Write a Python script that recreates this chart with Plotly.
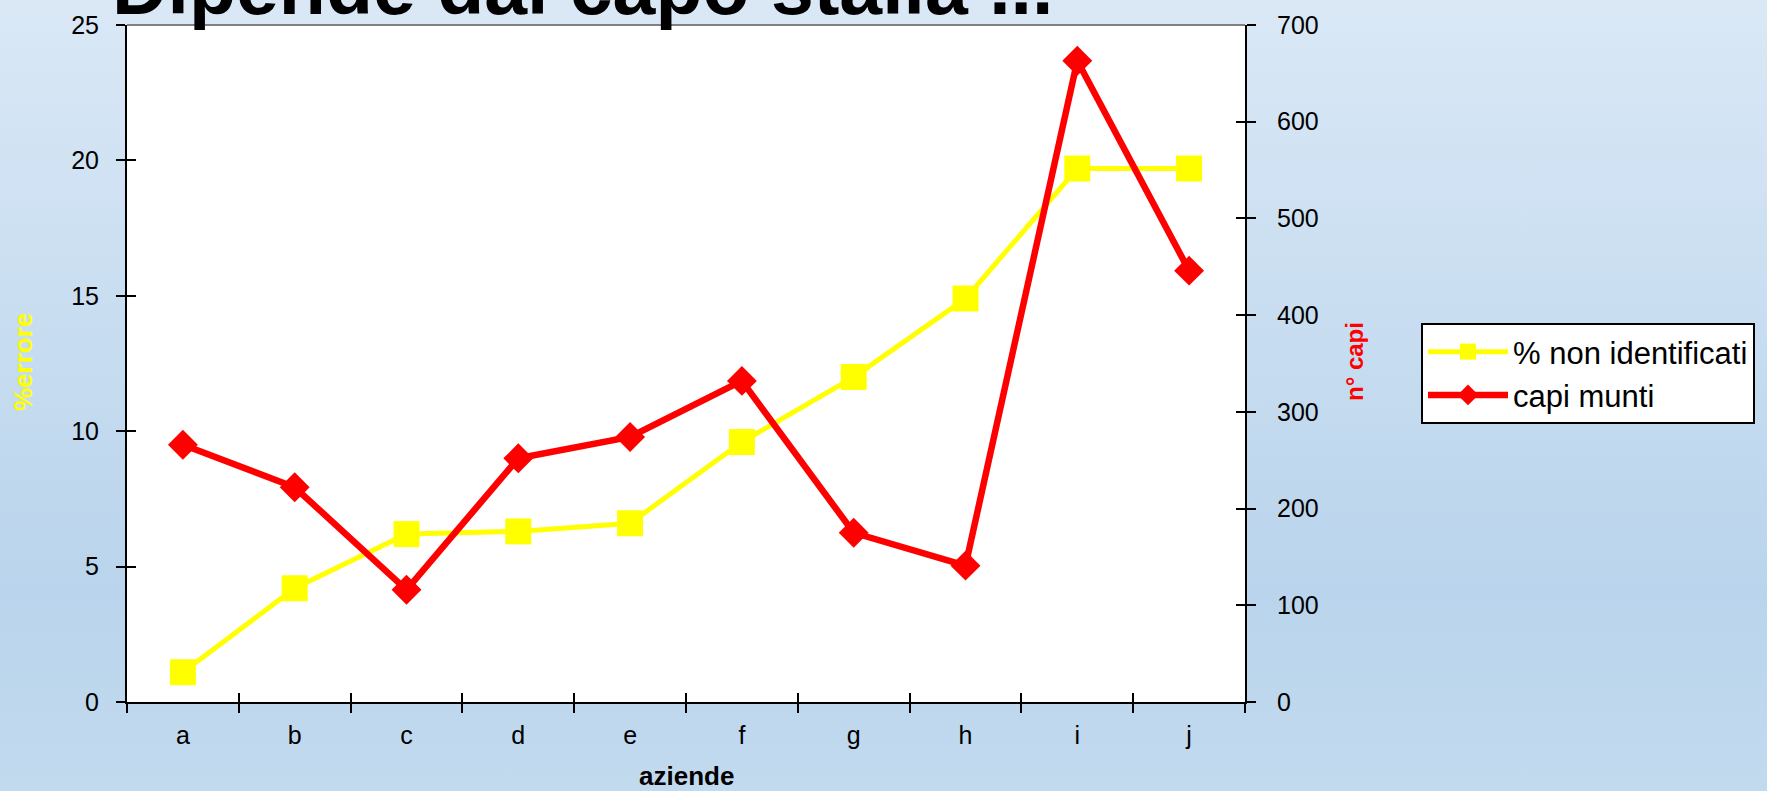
import base64
import plotly.graph_objects as go

# ---- data ----
categories = ["a", "b", "c", "d", "e", "f", "g", "h", "i", "j"]
pct_non_identificati = [1.1, 4.2, 6.2, 6.3, 6.6, 9.6, 12.0, 14.9, 19.7, 19.7]
capi_munti = [266, 222, 116, 252, 274, 332, 175, 141, 663, 446]
left_ticks = [0, 5, 10, 15, 20, 25]
right_ticks = [0, 100, 200, 300, 400, 500, 600, 700]

title_text = "Dipende dal capo stalla ..."
left_title = "%errore"
right_title = "n° capi"
x_title = "aziende"
series_names = ["% non identificati", "capi munti"]

FONT = "Liberation Sans, Arial, sans-serif"
W, H = 1767, 791
L, R, T, B = 127, 522, 25, 89
pw, ph = W - L - R, H - T - B


def px_x(px):
    return (px - L) / pw


def px_y(py):
    return (H - B - py) / ph


svg = (
    '<svg xmlns="http://www.w3.org/2000/svg" width="100" height="100" '
    'viewBox="0 0 100 100" preserveAspectRatio="none"><defs>'
    '<linearGradient id="g" x1="0" y1="0" x2="0" y2="1">'
    '<stop offset="0" stop-color="#dae8f6"/>'
    '<stop offset="0.75" stop-color="#b9d4ec"/>'
    '<stop offset="1" stop-color="#c2daee"/>'
    '</linearGradient></defs><rect width="100" height="100" fill="url(#g)"/></svg>'
)
svg_uri = "data:image/svg+xml;base64," + base64.b64encode(svg.encode()).decode()

fig = go.Figure()

fig.add_trace(go.Scatter(
    x=categories, y=pct_non_identificati, name=series_names[0],
    mode="lines+markers", xaxis="x", yaxis="y",
    line=dict(color="#FFFF00", width=5),
    marker=dict(symbol="square", size=26, color="#FFFF00"),
))
fig.add_trace(go.Scatter(
    x=categories, y=capi_munti, name=series_names[1],
    mode="lines+markers", xaxis="x", yaxis="y2",
    line=dict(color="#FF0000", width=6.5),
    marker=dict(symbol="diamond", size=23, color="#FF0000"),
))
# invisible helpers so the overlay axes (inner half of crossing ticks) render
fig.add_trace(go.Scatter(
    x=categories, y=pct_non_identificati, xaxis="x2", yaxis="y3",
    mode="markers", marker=dict(opacity=0), showlegend=False, hoverinfo="skip",
))
fig.add_trace(go.Scatter(
    x=categories, y=capi_munti, xaxis="x", yaxis="y4",
    mode="markers", marker=dict(opacity=0), showlegend=False, hoverinfo="skip",
))

tickfont = dict(family=FONT, size=25, color="black")
cat_axis = dict(type="category", categoryorder="array", categoryarray=categories,
                range=[-0.5, len(categories) - 0.5], tickson="boundaries",
                showgrid=False, zeroline=False)

fig.update_layout(
    width=W, height=H,
    margin=dict(l=L, r=R, t=T, b=B, autoexpand=False),
    paper_bgcolor="#c6dcf0", plot_bgcolor="white",
    font=dict(family=FONT, color="black"),
    showlegend=True,
    legend=dict(
        x=px_x(1421), y=px_y(323), xanchor="left", yanchor="top",
        bgcolor="white", bordercolor="black", borderwidth=2,
        font=dict(family=FONT, size=31, color="black"),
        itemsizing="trace", tracegroupgap=0, itemwidth=80,
    ),
    xaxis=dict(**cat_axis, ticks="outside", ticklen=9, tickwidth=2, tickcolor="black",
               showline=True, linewidth=2, linecolor="black",
               tickfont=tickfont, ticklabelstandoff=10),
    xaxis2=dict(**cat_axis, overlaying="x", side="bottom", ticks="inside", ticklen=9,
                tickwidth=2, tickcolor="black", showticklabels=False, showline=False),
    yaxis=dict(range=[0, 25], tickmode="array", tickvals=left_ticks,
               ticks="outside", ticklen=9, tickwidth=2, tickcolor="black",
               showline=True, linewidth=2, linecolor="black", showgrid=False,
               zeroline=False, tickfont=tickfont, ticklabelstandoff=12),
    yaxis2=dict(range=[0, 700], tickmode="array", tickvals=right_ticks, overlaying="y",
                side="right", ticks="outside", ticklen=9, tickwidth=2, tickcolor="black",
                showline=True, linewidth=2, linecolor="black", showgrid=False,
                zeroline=False, tickfont=tickfont, ticklabelstandoff=16),
    yaxis3=dict(range=[0, 25], tickmode="array", tickvals=left_ticks, overlaying="y",
                side="left", ticks="inside", ticklen=9, tickwidth=2, tickcolor="black",
                showticklabels=False, showline=False, showgrid=False, zeroline=False),
    yaxis4=dict(range=[0, 700], tickmode="array", tickvals=right_ticks, overlaying="y",
                side="right", ticks="inside", ticklen=9, tickwidth=2, tickcolor="black",
                showticklabels=False, showline=False, showgrid=False, zeroline=False),
    images=[dict(source=svg_uri, xref="paper", yref="paper",
                 x=px_x(0), y=px_y(0), sizex=W / pw, sizey=H / ph,
                 xanchor="left", yanchor="top", sizing="stretch", layer="below")],
    shapes=[
        dict(type="rect", xref="paper", yref="paper", x0=0, x1=1, y0=0, y1=1,
             fillcolor="white", line=dict(width=0), layer="below"),
        dict(type="line", xref="paper", yref="paper", x0=0, x1=1, y0=1, y1=1,
             line=dict(color="#808080", width=2)),
    ],
    annotations=[
        dict(text=title_text, xref="paper", yref="paper", x=px_x(110), y=px_y(-13),
             xanchor="left", yanchor="middle", showarrow=False,
             font=dict(family=FONT, size=77, color="black", weight="bold")),
        dict(text=left_title, xref="paper", yref="paper", x=px_x(23), y=px_y(362),
             xanchor="center", yanchor="middle", showarrow=False, textangle=-90,
             font=dict(family=FONT, size=26, color="#FFFF00", weight="bold")),
        dict(text=right_title, xref="paper", yref="paper", x=px_x(1355), y=px_y(362),
             xanchor="center", yanchor="middle", showarrow=False, textangle=-90,
             font=dict(family=FONT, size=24, color="#FF0000", weight="bold")),
        dict(text=x_title, xref="paper", yref="paper", x=0.5, y=px_y(776),
             xanchor="center", yanchor="middle", showarrow=False,
             font=dict(family=FONT, size=26, color="black", weight="bold")),
    ],
)

fig.write_html(
    "out.html",
    config={"displayModeBar": False},
    post_script="document.body.style.margin='0';document.body.style.overflow='hidden';",
)
